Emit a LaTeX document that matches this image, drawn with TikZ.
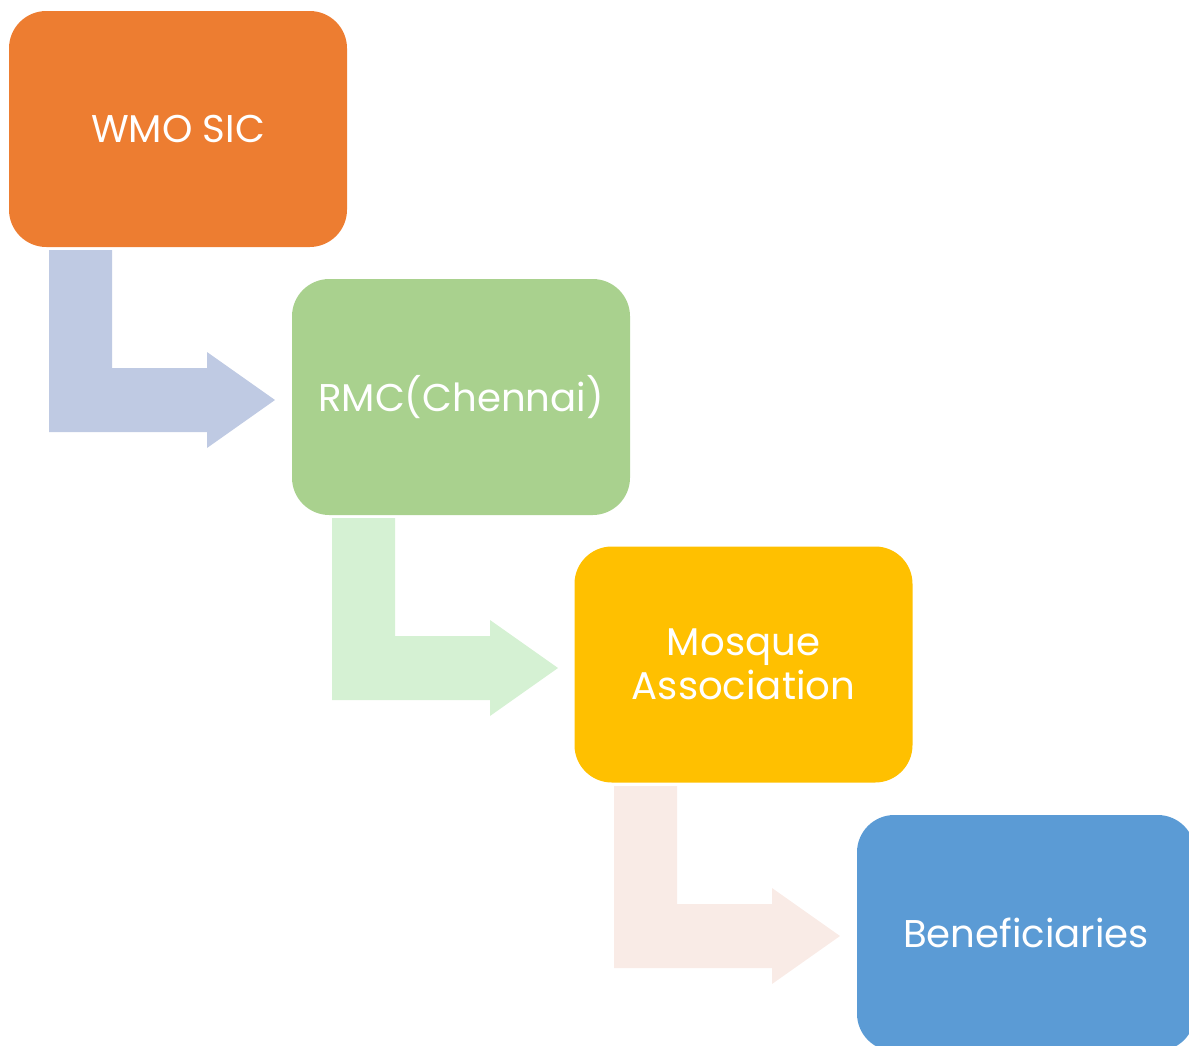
\documentclass[tikz,border=0pt]{standalone}
\usepackage{fontspec}
\setmainfont{Poppins}
\definecolor{cOrange}{HTML}{ED7D31}
\definecolor{cGreen}{HTML}{A9D18E}
\definecolor{cYellow}{HTML}{FFC000}
\definecolor{cBlue}{HTML}{5B9BD5}
\definecolor{aOne}{HTML}{BFCAE3}
\definecolor{aTwo}{HTML}{D5F1D3}
\definecolor{aThree}{HTML}{F9EBE6}
\begin{document}
\begin{tikzpicture}[x=0.75pt,y=-0.75pt,
  box/.style={rounded corners=28pt, minimum width=253.5pt, minimum height=177pt,
    inner sep=0pt, text=white, align=center, font=\fontsize{29}{33}\selectfont}]
\useasboundingbox (0,0) rectangle (1189,1046);
\begin{scope}
\clip (0,0) rectangle (1189,1046);
\node[box, fill=cOrange] (b1) at (178,129) {WMO SIC};
\node[box, fill=cGreen]  (b2) at (461,397) {RMC(Chennai)};
\node[box, fill=cYellow] (b3) at (743.5,664.5) {Mosque\\Association};
\node[box, fill=cBlue]   (b4) at (1026,933) {Beneficiaries};
\foreach \dx/\dy/\col in {0/0/aOne, 283/268/aTwo, 565/536/aThree}{
  \fill[\col, shift={(\dx*0.75pt,-\dy*0.75pt)}]
    (49,250) -- (112,250) -- (112,368) -- (207,368) -- (207,352) -- (275,400)
    -- (207,448) -- (207,432) -- (49,432) -- cycle;
}
\end{scope}
\end{tikzpicture}
\end{document}
